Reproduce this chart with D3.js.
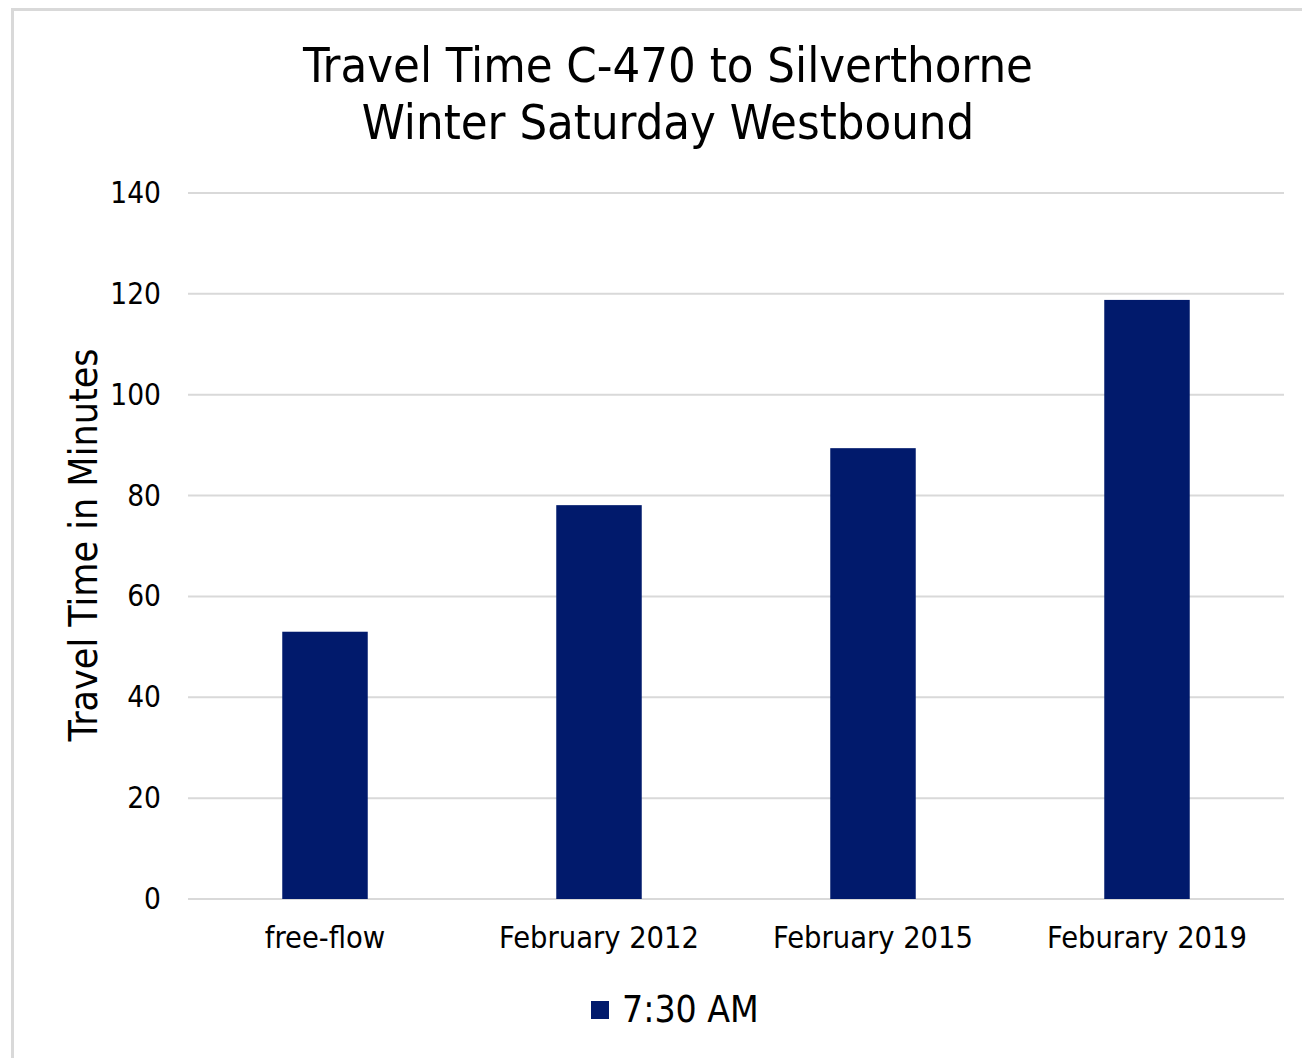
<!DOCTYPE html>
<html>
<head>
<meta charset="utf-8">
<script src="https://cdn.jsdelivr.net/npm/d3@7"></script>
<style>
  body { margin: 0; background: #fff; }
  text { font-family: "DejaVu Sans Condensed", sans-serif; fill: #000; }
</style>
</head>
<body>
<div id="graf"></div>
<script>
// datos
categorias = ['free-flow', 'February 2012', 'February 2015', 'Feburary 2019']
minutos = [53, 78.1, 89.4, 118.8]
ticksY = [0, 20, 40, 60, 80, 100, 120, 140]
serie = '7:30 AM'
titulo = ['Travel Time C-470 to Silverthorne', 'Winter Saturday Westbound']
tituloY = 'Travel Time in Minutes'

ancho_total = 1302
alto_total = 1058
margins = { top: 193, left: 188, right: 18, bottom: 159 }
ancho = ancho_total - margins.left - margins.right
alto = alto_total - margins.top - margins.bottom

azul = '#011a6c'
gris = '#d9d9d9'

svg = d3.select('#graf').append('svg')
        .attr('width', ancho_total)
        .attr('height', alto_total)

// marco del grafico
svg.append('rect')
        .attr('x', 12.5).attr('y', 9.5)
        .attr('width', 1320).attr('height', 1070)
        .attr('fill', 'none')
        .attr('stroke', gris)
        .attr('stroke-width', 3)

g = svg.append('g')
        .attr('transform', `translate(${margins.left}, ${margins.top})`)

x = d3.scaleBand()
        .domain(categorias)
        .range([0, ancho])
        .paddingInner(0.688)
        .paddingOuter(0.344)

y = d3.scaleLinear()
        .domain([0, 140])
        .range([alto, 0])

// lineas de cuadricula
g.append('g')
        .selectAll('line')
        .data(ticksY)
        .join('line')
        .attr('x1', 0).attr('x2', ancho)
        .attr('y1', d => y(d)).attr('y2', d => y(d))
        .attr('stroke', gris)
        .attr('stroke-width', 2)

// eje y
yAxisGroup = g.append('g')
        .call(d3.axisLeft(y).tickValues(ticksY).tickSize(0).tickPadding(27))
yAxisGroup.select('.domain').remove()
yAxisGroup.selectAll('text')
        .style('font-size', '29.5px')
        .attr('fill', '#000')

// barras
g.selectAll('rect.barra')
        .data(minutos)
        .join('rect')
        .attr('class', 'barra')
        .attr('x', (d, i) => x(categorias[i]))
        .attr('y', d => y(d))
        .attr('width', x.bandwidth())
        .attr('height', d => alto - y(d))
        .attr('fill', azul)

// eje x
xAxisGroup = g.append('g')
        .attr('transform', `translate(0, ${alto})`)
        .call(d3.axisBottom(x).tickSize(0).tickPadding(27))
xAxisGroup.select('.domain').remove()
xAxisGroup.selectAll('text')
        .style('font-size', '30.5px')
        .attr('fill', '#000')

// titulo (dos lineas)
svg.selectAll('text.titulo')
        .data(titulo)
        .join('text')
        .attr('class', 'titulo')
        .attr('text-anchor', 'middle')
        .style('font-size', '48.5px')
        .attr('x', 668)
        .attr('y', (d, i) => 82 + i * 57)
        .text(d => d)

// titulo eje y
svg.append('text')
        .attr('transform', `translate(97, 545) rotate(-90)`)
        .attr('text-anchor', 'middle')
        .style('font-size', '39px')
        .text(tituloY)

// leyenda
leyenda = svg.append('g')
        .attr('transform', 'translate(591, 1001)')
leyenda.append('rect')
        .attr('width', 18).attr('height', 18)
        .attr('fill', azul)
leyenda.append('text')
        .attr('x', 31).attr('y', 21)
        .style('font-size', '37px')
        .text(serie)
</script>
</body>
</html>
